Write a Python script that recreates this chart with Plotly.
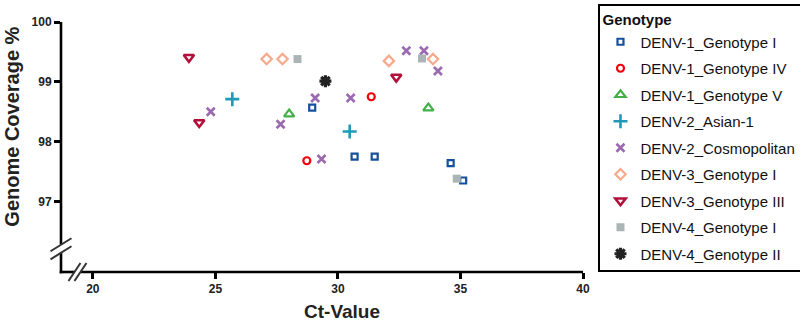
import plotly.graph_objects as go

# ---------------- data ----------------
genotypes = [
    "DENV-1_Genotype I", "DENV-1_Genotype IV", "DENV-1_Genotype V",
    "DENV-2_Asian-1", "DENV-2_Cosmopolitan", "DENV-3_Genotype I",
    "DENV-3_Genotype III", "DENV-4_Genotype I", "DENV-4_Genotype II",
]
ct_d1_g1 = [28.95, 30.68, 31.50, 34.60, 35.11]
cov_d1_g1 = [98.57, 97.75, 97.75, 97.64, 97.35]
ct_d1_g4 = [28.73, 31.36]
cov_d1_g4 = [97.68, 98.75]
ct_d1_g5 = [28.01, 33.69]
cov_d1_g5 = [98.46, 98.56]
ct_d2_as1 = [25.69, 30.48]
cov_d2_as1 = [98.71, 98.17]
ct_d2_cos = [24.81, 27.66, 29.07, 29.33, 30.52, 32.79, 33.51, 34.08]
cov_d2_cos = [98.50, 98.29, 98.73, 97.71, 98.73, 99.52, 99.52, 99.18]
ct_d3_g1 = [27.09, 27.74, 32.08, 33.88]
cov_d3_g1 = [99.38, 99.38, 99.35, 99.38]
ct_d3_g3 = [23.92, 24.34, 32.38]
cov_d3_g3 = [99.41, 98.32, 99.08]
ct_d4_g1 = [28.35, 33.43, 34.85]
cov_d4_g1 = [99.38, 99.39, 97.38]
ct_d4_g2 = [29.49]
cov_d4_g2 = [99.01]

x_ticks = [20, 25, 30, 35, 40]
y_ticks = [97, 98, 99, 100]

# ---------------- layout geometry ----------------
W, H = 800, 321
L, R, T, B = 61, 216.5, 22, 49.3
PW, PH = W - L - R, H - T - B
X_RANGE = [18.70, 40]
Y_RANGE = [95.82, 100]

FONT = "Arial, Liberation Sans, sans-serif"

series_x = [ct_d1_g1, ct_d1_g4, ct_d1_g5, ct_d2_as1, ct_d2_cos, ct_d3_g1, ct_d3_g3, ct_d4_g1, ct_d4_g2]
series_y = [cov_d1_g1, cov_d1_g4, cov_d1_g5, cov_d2_as1, cov_d2_cos, cov_d3_g1, cov_d3_g3, cov_d4_g1, cov_d4_g2]

styles = [
    dict(symbol="square", size=6, color="white", line=dict(color="#15519B", width=2.2)),
    dict(symbol="circle", size=7, color="white", line=dict(color="#F0000A", width=2.2)),
    dict(symbol="triangle-up", size=9, color="white", line=dict(color="#45B048", width=2.2)),
    dict(symbol="cross-thin", size=10, color="#1C9AB8", line=dict(color="#1C9AB8", width=2.6)),
    dict(symbol="x-thin", size=8, color="#9B6AAE", line=dict(color="#9B6AAE", width=2.6)),
    dict(symbol="diamond", size=8, color="white", line=dict(color="#F7A98B", width=2.2)),
    dict(symbol="triangle-down", size=9, color="white", line=dict(color="#B2103A", width=2.6)),
    dict(symbol="square", size=8, color="#ABB4B6", line=dict(color="#ABB4B6", width=0)),
    dict(symbol="asterisk", size=10, color="#222222", line=dict(color="#222222", width=3.2)),
]

fig = go.Figure()
for i, name in enumerate(genotypes):
    fig.add_trace(go.Scatter(
        x=series_x[i], y=series_y[i], mode="markers", name=name,
        legendgroup=f"g{i}", marker=styles[i], cliponaxis=False,
    ))

def px_x(p):  # pixel -> paper x
    return (p - L) / PW

def px_y(p):  # pixel -> paper y
    return (H - B - p) / PH

shapes = []
axis_line = dict(color="black", width=2.6)
slash = dict(color="#333333", width=2)

# y axis line with break
yb_lo, yb_hi = 252.5, 244.5
shapes.append(dict(type="line", xref="paper", yref="paper", x0=0, x1=0,
                   y0=px_y(H - B + 1.3), y1=px_y(yb_lo), line=axis_line))
shapes.append(dict(type="line", xref="paper", yref="paper", x0=0, x1=0,
                   y0=px_y(yb_hi), y1=1, line=axis_line))
for cy in (yb_lo, yb_hi):
    shapes.append(dict(type="line", xref="paper", yref="paper",
                       x0=px_x(L - 10.5), y0=px_y(cy + 6.5),
                       x1=px_x(L + 10.5), y1=px_y(cy - 6.5), line=slash))

# x axis line with break
xb_lo, xb_hi = 74.5, 80.5
shapes.append(dict(type="line", xref="paper", yref="paper", x0=px_x(L - 1.3), x1=px_x(xb_lo),
                   y0=0, y1=0, line=axis_line))
shapes.append(dict(type="line", xref="paper", yref="paper", x0=px_x(xb_hi), x1=1,
                   y0=0, y1=0, line=axis_line))
for cx in (xb_lo, xb_hi):
    shapes.append(dict(type="line", xref="paper", yref="paper",
                       x0=px_x(cx - 6), y0=px_y(H - B + 9),
                       x1=px_x(cx + 6), y1=px_y(H - B - 9), line=slash))

annotations = [
    dict(text="<b>Ct-Value</b>", xref="paper", yref="paper", x=px_x(342.5), y=px_y(311),
         showarrow=False, xanchor="center", yanchor="middle",
         font=dict(family=FONT, size=19, color="#222222")),
    dict(text="<b>Genome Coverage %</b>", xref="paper", yref="paper", x=px_x(12.5),
         y=px_y(127), textangle=-90, showarrow=False, xanchor="center", yanchor="middle",
         font=dict(family=FONT, size=20, color="#222222")),
]

fig.update_layout(
    width=W, height=H,
    margin=dict(l=L, r=R, t=T, b=B, pad=0, autoexpand=False),
    paper_bgcolor="white", plot_bgcolor="white",
    font=dict(family=FONT, color="#222222"),
    shapes=shapes, annotations=annotations,
    xaxis=dict(range=X_RANGE, tickvals=x_ticks, ticktext=[f"<b>{v}</b>" for v in x_ticks],
               showgrid=False, zeroline=False, showline=False, automargin=False,
               ticks="outside", ticklen=6, tickwidth=2.6, tickcolor="black",
               tickfont=dict(family=FONT, size=12, color="#222222")),
    yaxis=dict(range=Y_RANGE, tickvals=y_ticks, ticktext=[f"<b>{v}</b>" for v in y_ticks],
               showgrid=False, zeroline=False, showline=False, automargin=False,
               ticks="outside", ticklen=6, tickwidth=2.6, tickcolor="black",
               tickfont=dict(family=FONT, size=12, color="#222222")),
    legend=dict(
        x=px_x(599), y=px_y(4), xanchor="left", yanchor="top",
        bordercolor="black", borderwidth=2, bgcolor="white",
        font=dict(family=FONT, size=15, color="#111111"),
        title=dict(text="<b>Genotype</b>", font=dict(family=FONT, size=15, color="#111111")),
        tracegroupgap=4, maxheight=330,
    ),
    showlegend=True,
)

fig.write_html("out.html", config={"displayModeBar": False},
               post_script="document.body.style.margin='0';")
